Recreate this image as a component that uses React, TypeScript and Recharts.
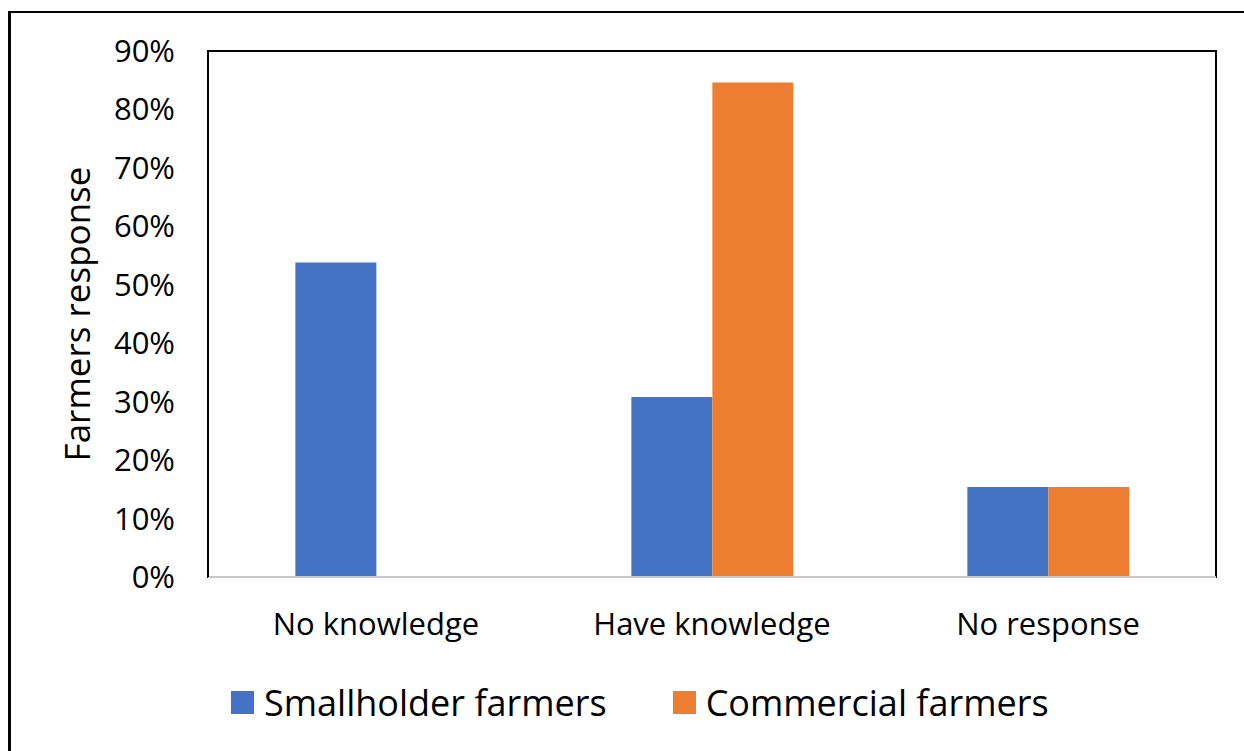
import React from 'react';
import { BarChart, Bar, XAxis, YAxis, Legend, ReferenceArea, ReferenceLine } from 'recharts';

const categories = ['No knowledge', 'Have knowledge', 'No response'];
const smallholder = [0.538, 0.308, 0.154];
const commercial = [0, 0.846, 0.154];
const yTicks = [0, 0.1, 0.2, 0.3, 0.4, 0.5, 0.6, 0.7, 0.8, 0.9];
const seriesNames = ['Smallholder farmers', 'Commercial farmers'];
const colors = ['#4472C4', '#ED7D31'];

const data = categories.map((name, i) => ({
  name,
  smallholder: smallholder[i],
  commercial: commercial[i],
}));

const FONT = '"Open Sans", sans-serif';

const renderLegend = (props: any) => {
  const payload = [...(props.payload || [])].sort(
    (a: any, b: any) => seriesNames.indexOf(a.value) - seriesNames.indexOf(b.value)
  );
  return (
    <div
      style={{
        height: 60,
        width: 1244,
        display: 'flex',
        alignItems: 'center',
        paddingLeft: 231,
        boxSizing: 'border-box',
        fontFamily: FONT,
        fontSize: 36,
        color: '#000',
      }}
    >
      {payload.map((entry: any, i: number) => (
        <div key={i} style={{ display: 'flex', alignItems: 'center', marginRight: 66 }}>
          <div style={{ width: 23, height: 23, background: entry.color, marginRight: 10 }} />
          <span style={{ whiteSpace: 'nowrap' }}>{entry.value}</span>
        </div>
      ))}
    </div>
  );
};

export default function App() {
  return (
    <div
      style={{
        position: 'absolute',
        left: 0,
        top: 0,
        width: 1244,
        height: 751,
        overflow: 'hidden',
        background: '#fff',
      }}
    >
      <div
        style={{
          position: 'absolute',
          left: 8,
          top: 11,
          width: 1300,
          height: 800,
          borderLeft: '3px solid #000',
          borderTop: '2px solid #000',
        }}
      />
      <div style={{ position: 'absolute', left: 0, top: 0 }}>
        <BarChart
          width={1244}
          height={751}
          data={data}
          margin={{ top: 51, right: 28, left: 0, bottom: 19 }}
          barCategoryGap="26%"
          barGap={0}
        >
          <ReferenceArea
            y1={0}
            y2={0.9}
            ifOverflow="visible"
            fill="#fff"
            fillOpacity={0}
            stroke="#000"
            strokeWidth={2}
          />
          <XAxis
            dataKey="name"
            height={95}
            axisLine={{ stroke: '#c8c8c8', strokeWidth: 2 }}
            tickLine={false}
            tickSize={0}
            tickMargin={36}
            tick={{ fill: '#000', fontSize: 31, fontFamily: FONT }}
          />
          <YAxis
            width={208}
            domain={[0, 0.9]}
            ticks={yTicks}
            interval={0}
            tickFormatter={(v: number) => `${Math.round(v * 100)}%`}
            axisLine={{ stroke: '#000', strokeWidth: 2 }}
            tickLine={false}
            tickSize={0}
            tickMargin={33}
            tick={{ fill: '#000', fontSize: 31, fontFamily: FONT }}
            label={{
              value: 'Farmers response',
              angle: -90,
              position: 'insideLeft',
              offset: 78,
              style: { textAnchor: 'middle', fill: '#000', fontSize: 35, fontFamily: FONT },
            }}
          />
          <ReferenceLine y={0} stroke="#c8c8c8" strokeWidth={2} ifOverflow="visible" />
          <Legend verticalAlign="bottom" content={renderLegend} wrapperStyle={{ left: 0, width: 1244 }} />
          <Bar dataKey="smallholder" name={seriesNames[0]} fill={colors[0]} isAnimationActive={false} />
          <Bar dataKey="commercial" name={seriesNames[1]} fill={colors[1]} isAnimationActive={false} />
        </BarChart>
      </div>
    </div>
  );
}
